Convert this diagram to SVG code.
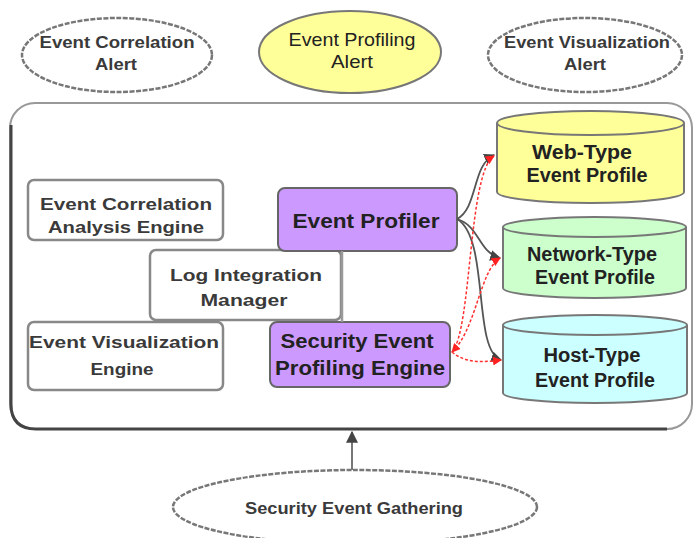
<svg xmlns="http://www.w3.org/2000/svg" width="696" height="538" viewBox="0 0 696 538">
<style>
.t{font-family:"Liberation Sans",Arial,sans-serif;text-anchor:middle;fill:#222}
.g{font-size:17px;font-weight:bold;fill:#3a3a3a}
.b{font-size:21px;font-weight:bold;fill:#222}
.c{font-size:20px;font-weight:bold;fill:#222}
.r{font-size:19px;fill:#222}
.alert{fill:#fff;stroke:#777;stroke-width:2.5;stroke-dasharray:5 1.5}
.box{fill:#fff;stroke:#888;stroke-width:2.5}
.pur{fill:#cc99ff;stroke:#666;stroke-width:2}
.cyl{stroke:#777;stroke-width:2}
.con{fill:none;stroke:#555;stroke-width:1.8}
.red{fill:none;stroke:#ff3030;stroke-width:1.5;stroke-dasharray:3 2}
</style>
<defs>
<marker id="ah" viewBox="0 0 10 10" refX="9" refY="5" markerWidth="6" markerHeight="6" orient="auto"><path d="M0,0L10,5L0,10z" fill="#444"/></marker>
<marker id="rh" viewBox="0 0 10 10" refX="9" refY="5" markerWidth="6" markerHeight="6" orient="auto-start-reverse"><path d="M0,0L10,5L0,10z" fill="#ff2020"/></marker>
</defs>
<rect x="0" y="0" width="696" height="538" fill="#fff"/>

<g id="container">
<rect x="10" y="103" width="682" height="326" rx="25" fill="#fff" stroke="#999" stroke-width="2"/>
<path d="M11,125 L11,404 Q11,429 36,429 L667,429" fill="none" stroke="#444" stroke-width="3"/>
</g>

<g id="alert-correlation">
<ellipse class="alert" cx="117" cy="55" rx="95" ry="37"/>
<text class="t g" x="117" y="48" textLength="155" lengthAdjust="spacingAndGlyphs">Event Correlation</text>
<text class="t g" x="116" y="70" textLength="42" lengthAdjust="spacingAndGlyphs">Alert</text>
</g>
<g id="alert-profiling">
<ellipse cx="350" cy="52" rx="91" ry="41" fill="#ffff99" stroke="#777" stroke-width="2"/>
<text class="t r" x="352" y="46" textLength="127" lengthAdjust="spacingAndGlyphs">Event Profiling</text>
<text class="t r" x="352" y="68" textLength="42" lengthAdjust="spacingAndGlyphs">Alert</text>
</g>
<g id="alert-visualization">
<ellipse class="alert" cx="585" cy="55" rx="97" ry="37"/>
<text class="t g" x="587" y="48" textLength="166" lengthAdjust="spacingAndGlyphs">Event Visualization</text>
<text class="t g" x="585" y="70" textLength="42" lengthAdjust="spacingAndGlyphs">Alert</text>
</g>

<g id="correlation-engine">
<rect class="box" x="28" y="180" width="195" height="60" rx="6"/>
<text class="t g" x="126" y="210" textLength="172" lengthAdjust="spacingAndGlyphs">Event Correlation</text>
<text class="t g" x="126" y="233" textLength="156" lengthAdjust="spacingAndGlyphs">Analysis Engine</text>
</g>
<g id="log-manager">
<rect class="box" x="150" y="250" width="191" height="70" rx="6"/>
<text class="t g" x="246" y="281" textLength="152" lengthAdjust="spacingAndGlyphs">Log Integration</text>
<text class="t g" x="244" y="306" textLength="87" lengthAdjust="spacingAndGlyphs">Manager</text>
</g>
<g id="visualization-engine">
<rect class="box" x="28" y="322" width="195" height="68" rx="6"/>
<text class="t g" x="124" y="348" textLength="190" lengthAdjust="spacingAndGlyphs">Event Visualization</text>
<text class="t g" x="122" y="375" textLength="63" lengthAdjust="spacingAndGlyphs">Engine</text>
</g>

<g id="event-profiler">
<rect class="pur" x="278" y="188" width="179" height="63" rx="7"/>
<text class="t b" x="366" y="228" textLength="147" lengthAdjust="spacingAndGlyphs">Event Profiler</text>
</g>
<g id="profiling-engine">
<rect class="pur" x="270" y="322" width="180" height="65" rx="7"/>
<text class="t b" x="357" y="348" textLength="153" lengthAdjust="spacingAndGlyphs">Security Event</text>
<text class="t b" x="360" y="375" textLength="170" lengthAdjust="spacingAndGlyphs">Profiling Engine</text>
</g>

<g id="web-profile">
<path class="cyl" fill="#ffff99" d="M497,123 L497,192 A93.5,11 0 0 0 684,192 L684,123"/>
<ellipse class="cyl" fill="#ffff99" cx="590.5" cy="123" rx="93.5" ry="12"/>
<text class="t c" x="582" y="159" textLength="100" lengthAdjust="spacingAndGlyphs">Web-Type</text>
<text class="t c" x="587" y="182" textLength="121" lengthAdjust="spacingAndGlyphs">Event Profile</text>
</g>
<g id="network-profile">
<path class="cyl" fill="#ccffcc" d="M503,227 L503,288 A91.5,10 0 0 0 686,288 L686,227"/>
<ellipse class="cyl" fill="#ccffcc" cx="594.5" cy="227" rx="91.5" ry="10"/>
<text class="t c" x="592" y="261" textLength="130" lengthAdjust="spacingAndGlyphs">Network-Type</text>
<text class="t c" x="595" y="284" textLength="120" lengthAdjust="spacingAndGlyphs">Event Profile</text>
</g>
<g id="host-profile">
<path class="cyl" fill="#ccffff" d="M503,325 L503,393 A92,10 0 0 0 687,393 L687,325"/>
<ellipse class="cyl" fill="#ccffff" cx="595" cy="325" rx="92" ry="10"/>
<text class="t c" x="592" y="362" textLength="97" lengthAdjust="spacingAndGlyphs">Host-Type</text>
<text class="t c" x="595" y="387" textLength="120" lengthAdjust="spacingAndGlyphs">Event Profile</text>
</g>

<g id="gathering">
<ellipse class="alert" cx="355" cy="507" rx="182" ry="37"/>
<text class="t g" x="354" y="514" textLength="218" lengthAdjust="spacingAndGlyphs">Security Event Gathering</text>
</g>

<g id="connectors">
<line x1="342" y1="251" x2="342" y2="322" stroke="#999" stroke-width="2.5"/>
<path class="con" d="M457,219 C478,208 472,165 494,155" marker-end="url(#ah)"/>
<path class="con" d="M457,219 C480,226 478,252 500,258" marker-end="url(#ah)"/>
<path class="con" d="M457,219 C490,238 472,350 501,360" marker-end="url(#ah)"/>
<path class="red" d="M452,352 C472,330 468,172 494,156" marker-start="url(#rh)" marker-end="url(#rh)"/>
<path class="red" d="M452,352 C476,330 480,270 500,258" marker-end="url(#rh)"/>
<path class="red" d="M452,352 C466,364 484,362 501,360" marker-end="url(#rh)"/>
<line x1="352" y1="470" x2="352" y2="432" stroke="#777" stroke-width="2" marker-end="url(#ah)"/>
</g>
</svg>
